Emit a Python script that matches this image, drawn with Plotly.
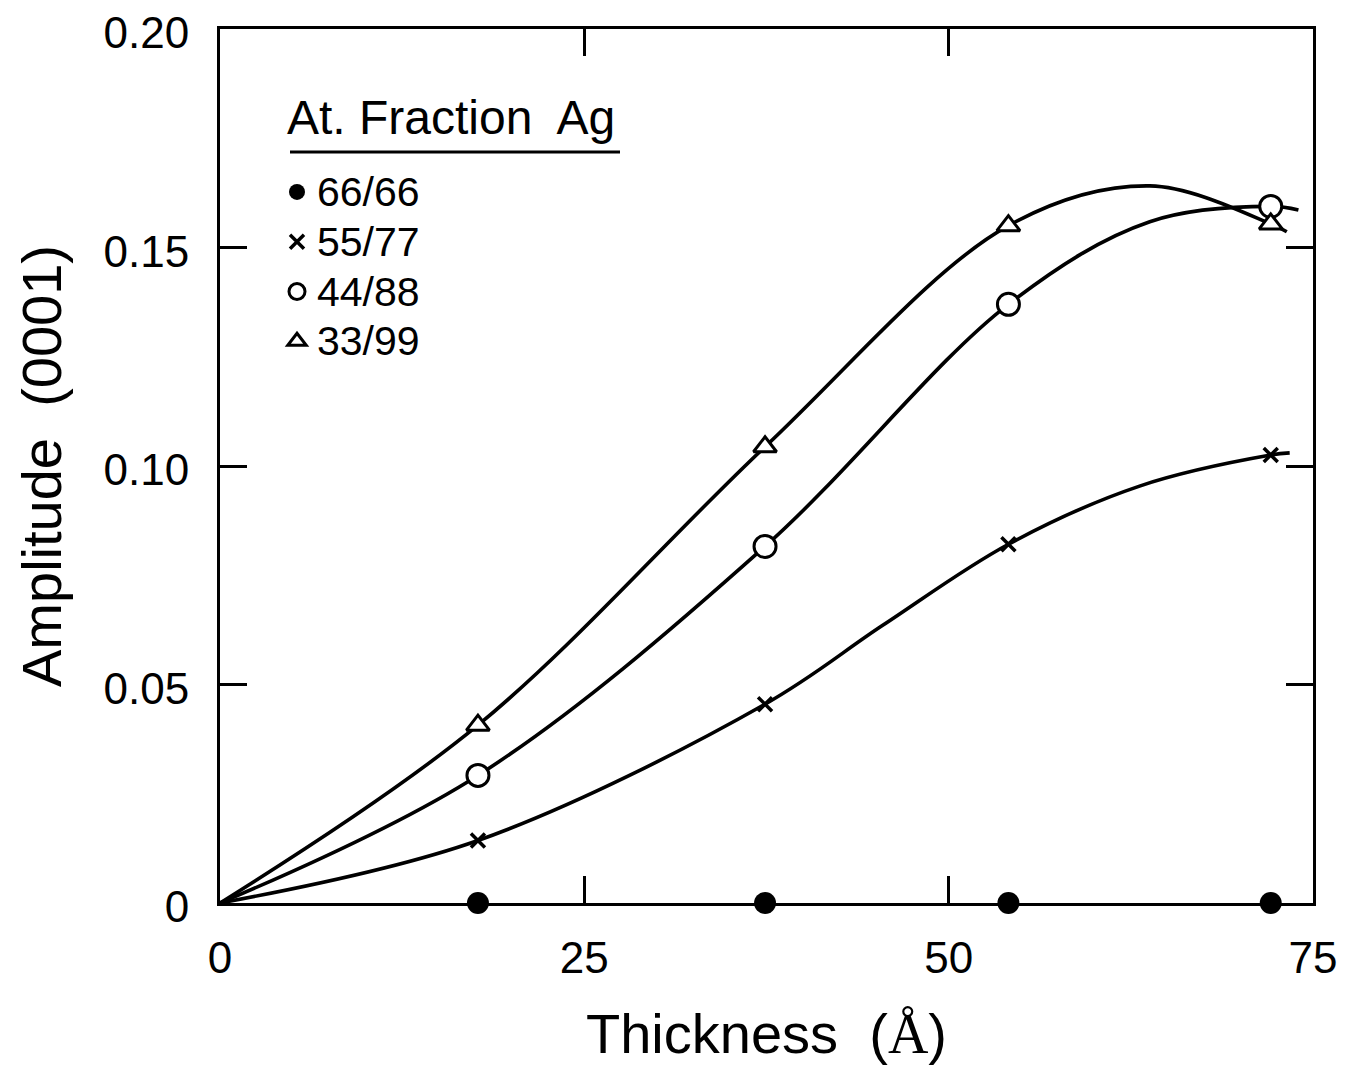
import plotly.graph_objects as go

# ---- data ----
thickness = [17.7, 37.4, 54.1, 72.1]
amp_66_66 = [0.0, 0.0, 0.0, 0.0]
amp_55_77 = [0.0143, 0.0455, 0.0821, 0.1025]
amp_44_88 = [0.0292, 0.0816, 0.137, 0.1594]
amp_33_99 = [0.0407, 0.1044, 0.155, 0.1554]

# hand-drawn fit curves
fit_55_77_x = [0, 17.7, 37.4, 45.5, 54.1, 63.1, 72.1, 73.4]
fit_55_77_y = [0, 0.0143, 0.0455, 0.0636, 0.0821, 0.0954, 0.1025, 0.1030]
fit_44_88_x = [0, 17.7, 37.4, 54.1, 63.8, 72.1, 74.0]
fit_44_88_y = [0, 0.0292, 0.0816, 0.137, 0.1559, 0.1594, 0.1586]
fit_33_99_x = [0, 17.7, 37.4, 54.1, 63.8, 72.1, 73.2]
fit_33_99_y = [0, 0.0407, 0.1044, 0.155, 0.1641, 0.1554, 0.1536]

legend_labels = ["66/66", "55/77", "44/88", "33/99"]
legend_title = "At. Fraction  Ag"
x_ticks = [0, 25, 50, 75]
x_tick_text = ["0", "25", "50", "75"]
y_ticks = [0, 0.05, 0.10, 0.15, 0.20]
y_tick_text = ["0", "0.05", "0.10", "0.15", "0.20"]

FONT = "Liberation Sans, Arial, sans-serif"
BLACK = "black"

# page body has an 8px margin: compensate so the plot lands where the reference has it
PAGE_PAD = 8
W, H = 1347 - PAGE_PAD, 1071 - PAGE_PAD
ML, MR, MT, MB = 220 - PAGE_PAD, 34, 29 - PAGE_PAD, 168
PW, PH = 1347 - 220 - MR, 903 - 29


def px_x(px):
    return (px - 220) / PW


def px_y(py):
    return (903 - py) / PH


fig = go.Figure()

# curves
for fx, fy in [(fit_55_77_x, fit_55_77_y), (fit_44_88_x, fit_44_88_y),
               (fit_33_99_x, fit_33_99_y)]:
    fig.add_trace(go.Scatter(x=fx, y=fy, mode="lines",
                             line=dict(color=BLACK, width=3.6, shape="spline", smoothing=1.0),
                             showlegend=False, hoverinfo="skip"))

LBL = "<span style='font-size:41px'>{}</span>"

# markers
fig.add_trace(go.Scatter(x=thickness, y=amp_66_66, mode="markers", name=LBL.format(legend_labels[0]),
                         marker=dict(symbol="circle", size=22, color=BLACK),
                         cliponaxis=False))
fig.add_trace(go.Scatter(x=thickness, y=amp_55_77, mode="markers", name=LBL.format(legend_labels[1]),
                         marker=dict(symbol="x-thin", size=14, color=BLACK,
                                     line=dict(color=BLACK, width=3.5))))
fig.add_trace(go.Scatter(x=thickness, y=amp_44_88, mode="markers", name=LBL.format(legend_labels[2]),
                         marker=dict(symbol="circle", size=22, color="white",
                                     line=dict(color=BLACK, width=3))))
fig.add_trace(go.Scatter(x=thickness, y=amp_33_99, mode="markers", name=LBL.format(legend_labels[3]),
                         marker=dict(symbol="triangle-up", size=20, color="white",
                                     line=dict(color=BLACK, width=3))))

axis_common = dict(
    showline=True, linecolor=BLACK, linewidth=3, mirror="ticks",
    ticks="inside", ticklen=27, tickwidth=2.5, tickcolor=BLACK,
    showgrid=False, zeroline=False, ticklabeloverflow="allow",
    tickfont=dict(family=FONT, size=44, color=BLACK),
)

fig.update_xaxes(range=[0, 75], tickvals=x_ticks, ticktext=x_tick_text,
                 ticklabelstandoff=14,
                 title=dict(text="Thickness  (<span style='font-family:Liberation Serif, serif'>Å</span>)",
                            font=dict(family=FONT, size=56, color=BLACK),
                            standoff=34),
                 **axis_common)
fig.update_yaxes(range=[0, 0.20], tickvals=y_ticks, ticktext=y_tick_text,
                 ticklabelstandoff=19, ticklabelshift=4,
                 title=dict(text="Amplitude  (0001)", font=dict(family=FONT, size=56, color=BLACK),
                            standoff=24),
                 **axis_common)

fig.update_layout(
    width=W, height=H,
    margin=dict(l=ML, r=MR, t=MT, b=MB, autoexpand=False),
    paper_bgcolor="white", plot_bgcolor="white",
    showlegend=True,
    legend=dict(
        x=px_x(277), y=px_y(162), xanchor="left", yanchor="top",
        font=dict(family=FONT, size=36, color=BLACK),
        bgcolor="rgba(0,0,0,0)", itemwidth=30, tracegroupgap=0,
    ),
)

# legend heading with its underline
fig.add_annotation(text=legend_title, xref="paper", yref="paper",
                   x=px_x(285), y=px_y(118), xanchor="left", yanchor="middle",
                   showarrow=False, font=dict(family=FONT, size=48, color=BLACK))
fig.add_shape(type="line", xref="paper", yref="paper",
              x0=px_x(290), x1=px_x(620), y0=px_y(152), y1=px_y(152),
              line=dict(color=BLACK, width=3))

fig.write_html("out.html")
